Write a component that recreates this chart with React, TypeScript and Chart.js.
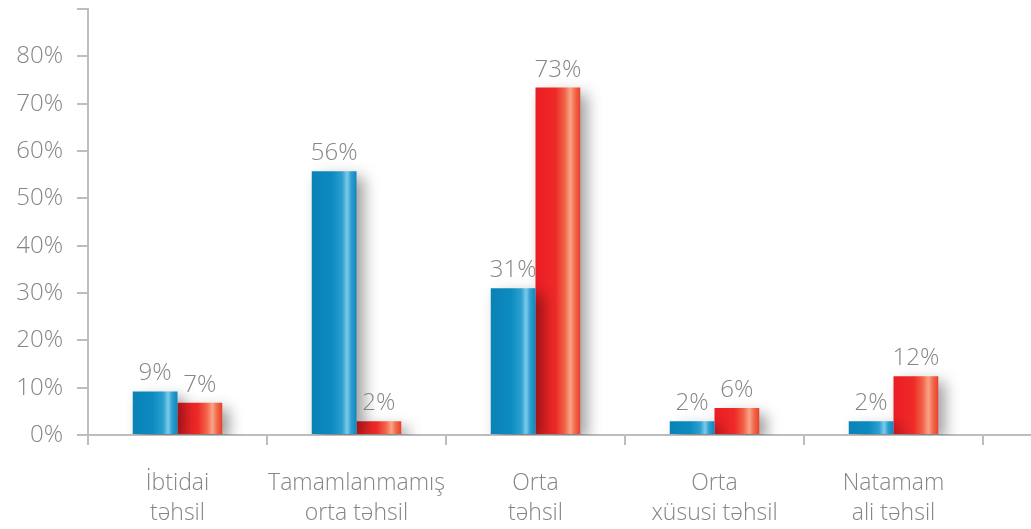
import React, { useEffect, useRef } from 'react';
import { Chart, registerables } from 'chart.js';

Chart.register(...registerables);

const categories: string[][] = [
  ['İbtidai', 'təhsil'],
  ['Tamamlanmamış', 'orta təhsil'],
  ['Orta', 'təhsil'],
  ['Orta', 'xüsusi təhsil'],
  ['Natamam', 'ali təhsil'],
];
const blueValues = [9.2, 55.7, 31, 2.9, 2.9];
const redValues = [6.8, 2.9, 73.4, 5.7, 12.4];
const blueLabels = ['9%', '56%', '31%', '2%', '2%'];
const redLabels = ['7%', '2%', '73%', '6%', '12%'];
const yMax = 90;
const yLabelMax = 80;
const yStep = 10;

const FONT = "'Open Sans', 'Liberation Sans', sans-serif";
const TEXT = '#858585';
const AXIS = '#bdbdbd';

const CAT_PCT = 0.5;

function barGradient(ctx: any, stops: [number, string][]) {
  const chart = ctx.chart;
  const xs = chart.scales?.x;
  if (!chart.chartArea || !xs) return stops[0][1];
  const i = ctx.dataIndex;
  const center = xs.getPixelForValue(i);
  const catW = xs.width / categories.length;
  const w = (catW * CAT_PCT) / 2;
  const left = ctx.datasetIndex === 0 ? center - w : center;
  const g = chart.ctx.createLinearGradient(left, 0, left + w, 0);
  stops.forEach(([o, c]) => g.addColorStop(o, c));
  return g;
}

const blueStops: [number, string][] = [
  [0, '#0a82b6'],
  [0.45, '#0c8bc0'],
  [0.68, '#2c9fcf'],
  [0.79, '#7ccbea'],
  [0.88, '#2e9ed0'],
  [1, '#0f86bb'],
];
const redStops: [number, string][] = [
  [0, '#ed1c24'],
  [0.45, '#ee2a27'],
  [0.65, '#f26248'],
  [0.78, '#f8a486'],
  [0.88, '#f26a4c'],
  [1, '#e8402a'],
];

const shadowPlugin = {
  id: 'barShadow',
  beforeDatasetsDraw(chart: any) {
    const c = chart.ctx;
    c.save();
    c.shadowColor = 'rgba(0,0,0,0.38)';
    c.shadowBlur = 14;
    c.shadowOffsetX = 7;
    c.shadowOffsetY = 6;
  },
  afterDatasetsDraw(chart: any) {
    const c = chart.ctx;
    c.restore();
    c.save();
    c.font = `300 24px ${FONT}`;
    c.fillStyle = TEXT;
    c.textAlign = 'center';
    c.textBaseline = 'alphabetic';
    const labelSets = [blueLabels, redLabels];
    chart.data.datasets.forEach((_: any, di: number) => {
      const meta = chart.getDatasetMeta(di);
      meta.data.forEach((el: any, i: number) => {
        c.fillText(labelSets[di][i], el.x, el.y - 11);
      });
    });
    c.restore();
  },
  afterDraw(chart: any) {
    const c = chart.ctx;
    const { right, bottom } = chart.chartArea;
    c.save();
    c.strokeStyle = AXIS;
    c.lineWidth = 2;
    c.beginPath();
    c.moveTo(right, bottom);
    c.lineTo(chart.width, bottom);
    c.stroke();
    c.restore();
  },
};

export default function App() {
  const ref = useRef<HTMLCanvasElement>(null);
  useEffect(() => {
    if (!ref.current) return;
    const chart = new Chart(ref.current, {
      type: 'bar',
      data: {
        labels: categories,
        datasets: [
          {
            data: blueValues,
            backgroundColor: (ctx: any) => barGradient(ctx, blueStops),
            categoryPercentage: CAT_PCT,
            barPercentage: 1,
            borderWidth: 0,
          },
          {
            data: redValues,
            backgroundColor: (ctx: any) => barGradient(ctx, redStops),
            categoryPercentage: CAT_PCT,
            barPercentage: 1,
            borderWidth: 0,
          },
        ],
      },
      options: {
        animation: false,
        responsive: true,
        maintainAspectRatio: false,
        layout: { padding: { top: 9, right: 48, left: 0, bottom: 0 } },
        plugins: {
          legend: { display: false },
          tooltip: { enabled: false },
        },
        scales: {
          x: {
            grid: {
              display: true,
              drawOnChartArea: false,
              drawTicks: true,
              tickLength: 10,
              color: AXIS,
              lineWidth: 2,
              offset: true,
            },
            border: { display: true, color: AXIS, width: 2 },
            ticks: {
              color: TEXT,
              font: { family: FONT, size: 23, weight: '300' as any, lineHeight: 1.3 },
              padding: 24,
              maxRotation: 0,
              autoSkip: false,
            },
            afterFit(scale: any) {
              scale.height = 94;
              scale.paddingLeft = 0;
              scale.paddingRight = 0;
            },
          },
          y: {
            min: 0,
            max: yMax,
            grid: {
              display: true,
              drawOnChartArea: false,
              drawTicks: true,
              tickLength: 11,
              color: AXIS,
              lineWidth: 2,
            },
            border: { display: true, color: AXIS, width: 2 },
            ticks: {
              stepSize: yStep,
              color: TEXT,
              font: { family: FONT, size: 24, weight: '300' as any },
              padding: 14,
              callback: (v: any) => (Number(v) <= yLabelMax ? `${v}%` : ''),
            },
            afterFit(scale: any) {
              scale.width = 88;
              scale.paddingTop = 0;
              scale.paddingBottom = 0;
            },
          },
        },
      },
      plugins: [shadowPlugin],
    });
    return () => chart.destroy();
  }, []);
  return (
    <div style={{ position: 'fixed', left: 0, top: 0, width: 1031, height: 529, background: '#fff' }}>
      <canvas ref={ref} />
    </div>
  );
}
